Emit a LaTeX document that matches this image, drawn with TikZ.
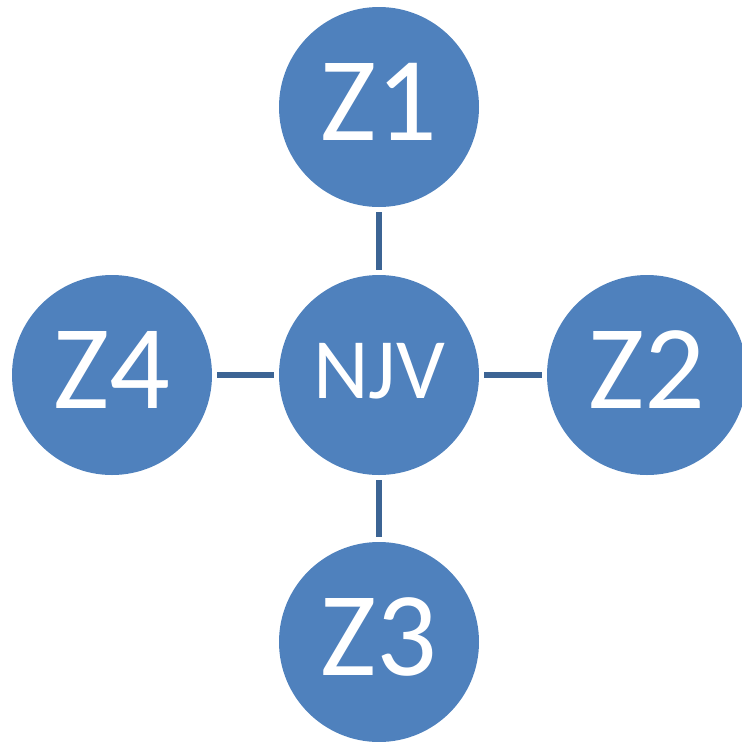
\documentclass[tikz,border=0pt]{standalone}
\usepackage{fontspec}
\setmainfont{Carlito}
\definecolor{nodeblue}{HTML}{4F81BD}
\definecolor{linkblue}{HTML}{3C6494}
\begin{document}
\begin{tikzpicture}[x=1pt,y=-1pt,
  bubble/.style={circle,fill=nodeblue,draw=none,minimum size=200pt,inner sep=0pt,text=white},
  big/.style={bubble,font=\fontsize{120}{120}\selectfont,text depth=10pt},
  hub/.style={bubble,font=\fontsize{86}{86}\selectfont,text depth=8pt},
  link/.style={draw=linkblue,line width=5.5pt,shorten <=5pt,shorten >=5pt}]
\useasboundingbox (0,0) rectangle (742,742);
\node[hub] (njv) at (379,375) {NJV};
\node[big] (z1) at (379,107) {Z1};
\node[big] (z2) at (647,375) {Z2};
\node[big] (z3) at (379,642) {Z3};
\node[big] (z4) at (112,375) {Z4};
\draw[link] (njv) -- (z1);
\draw[link] (njv) -- (z2);
\draw[link] (njv) -- (z3);
\draw[link] (njv) -- (z4);
\end{tikzpicture}
\end{document}
